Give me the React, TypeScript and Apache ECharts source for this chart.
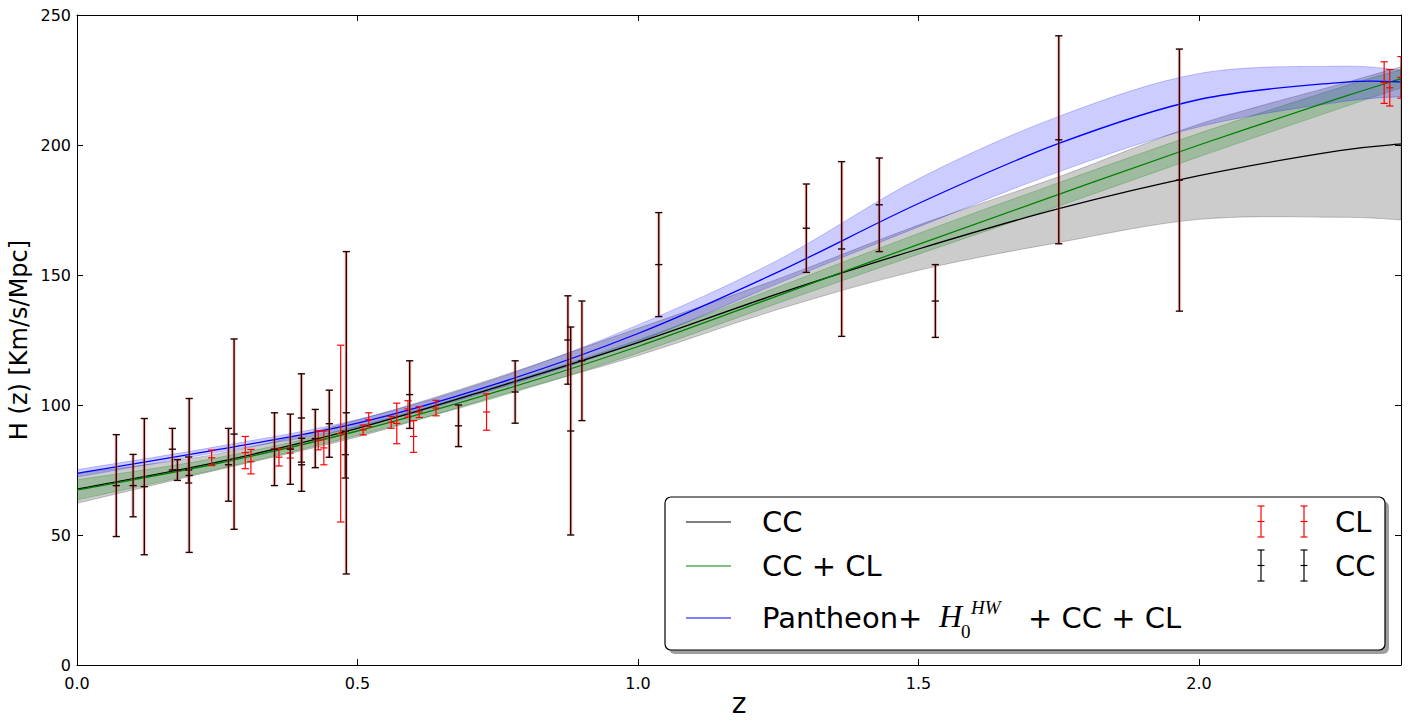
import React, { useEffect, useRef } from "react";
import * as echarts from "echarts";

// Sample redshifts at which the reconstructed curves were read
const Z_GRID = [0, 0.25, 0.5, 0.75, 1.0, 1.25, 1.5, 1.75, 2.0, 2.25, 2.36];

// CC reconstruction (black) and its band
const CC_FIT = [67.6, 78, 91, 107, 124, 142.8, 160, 175.5, 188.2, 197.8, 200.4];
const CC_LO = [62.2, 75, 87.7, 103.5, 119, 136.8, 151.8, 162.5, 171.4, 172.2, 171.2];
const CC_HI = [73.7, 81.2, 94.2, 110.7, 129.5, 148.5, 169.2, 187.8, 208, 223.3, 230.1];

// CC + CL reconstruction (green) and its band
const CCCL_FIT = [67.3, 77.5, 90, 105.2, 122.5, 142.1, 161.8, 181, 200, 218, 225.5];
const CCCL_LO = [63.5, 75.3, 88.3, 103, 120, 139.2, 158, 176.5, 195.5, 214, 222];
const CCCL_HI = [71.2, 79.7, 91.8, 107.4, 125, 145.4, 166, 185.5, 204.5, 222, 229];

// Pantheon+ H0HW + CC + CL reconstruction (blue) and its band
const PAN_FIT = [73.7, 82.8, 93, 108.3, 127.5, 151.2, 177.5, 200.6, 217.5, 224, 224.3];
const PAN_LO = [72.3, 81.8, 91.5, 106.3, 124.3, 146.8, 168.5, 189.7, 207, 216.5, 218.6];
const PAN_HI = [75.1, 84.0, 94.4, 110.3, 130.8, 155.8, 187, 211, 227.5, 230.3, 228.8];

// Cosmic chronometer data (black error bars)
const CC_Z = [0.07, 0.1, 0.12, 0.17, 0.179, 0.199, 0.2, 0.27, 0.28, 0.352, 0.3802, 0.4, 0.4004, 0.4247, 0.4497, 0.4783, 0.48, 0.593, 0.68, 0.781, 0.875, 0.88, 0.9, 1.037, 1.3, 1.363, 1.43, 1.53, 1.75, 1.965];
const CC_H = [69, 69, 68.6, 83, 75, 75, 72.9, 77, 88.8, 83, 83, 95, 77, 87.1, 92.8, 80.9, 97, 104, 92, 105, 125, 90, 117, 154, 168, 160, 177, 140, 202, 186.5];
const CC_E = [19.6, 12, 26.2, 8, 4, 5, 29.6, 14, 36.6, 14, 13.5, 17, 10.2, 11.2, 12.9, 9, 62, 13, 8, 12, 17, 40, 23, 20, 17, 33.6, 18, 14, 40, 50.4];

// Clustering data (red error bars)
const CL_Z = [0.24, 0.3, 0.31, 0.36, 0.38, 0.43, 0.44, 0.47, 0.51, 0.52, 0.56, 0.57, 0.59, 0.6, 0.61, 0.64, 0.73, 2.33, 2.34, 2.36];
const CL_H = [79.69, 81.7, 78.2, 79.93, 81.5, 86.45, 83.5, 89, 90.4, 94.35, 93.34, 92.9, 98.48, 87.9, 97.3, 98.82, 97.3, 224, 222, 226];
const CL_E = [2.99, 6.2, 4.7, 3.39, 1.9, 3.68, 6.5, 34, 1.9, 2.64, 2.3, 7.8, 3.18, 6.1, 2.1, 2.98, 7.0, 8, 7, 8];

const X_MIN = 0;
const X_MAX = 2.36;
const X_STEP = 0.5;
const Y_MIN = 0;
const Y_MAX = 250;
const Y_STEP = 50;

const FONT = "DejaVu Sans";

function pairs(xs: number[], ys: number[]) {
  return xs.map((x, i) => [x, ys[i]]);
}

// Catmull-Rom style smooth path through pixel points (rendering only)
function smoothSegment(pts: number[][], startWithMove: boolean) {
  let d = "";
  const n = pts.length;
  if (startWithMove) d += `M${pts[0][0]},${pts[0][1]}`;
  else d += `L${pts[0][0]},${pts[0][1]}`;
  for (let i = 0; i < n - 1; i++) {
    const p0 = pts[Math.max(0, i - 1)];
    const p1 = pts[i];
    const p2 = pts[i + 1];
    const p3 = pts[Math.min(n - 1, i + 2)];
    const c1x = p1[0] + (p2[0] - p0[0]) / 6;
    const c1y = p1[1] + (p2[1] - p0[1]) / 6;
    const c2x = p2[0] - (p3[0] - p1[0]) / 6;
    const c2y = p2[1] - (p3[1] - p1[1]) / 6;
    d += ` C${c1x},${c1y} ${c2x},${c2y} ${p2[0]},${p2[1]}`;
  }
  return d;
}

function band(lo: number[], hi: number[], fill: string, edge: string) {
  return {
    type: "custom",
    clip: true,
    silent: true,
    z: 1,
    encode: { x: 0, y: [1, 2] },
    data: Z_GRID.map((z, i) => [z, lo[i], hi[i]]),
    renderItem: (params: any, api: any) => {
      if (params.dataIndex !== 0) return null;
      const up = Z_GRID.map((z, i) => api.coord([z, hi[i]]));
      const dn = Z_GRID.map((z, i) => api.coord([z, lo[i]])).reverse();
      const d = smoothSegment(up, true) + " " + smoothSegment(dn, false) + " Z";
      return {
        type: "path",
        shape: { pathData: d },
        style: { fill, stroke: edge, lineWidth: 1 },
      };
    },
  };
}

function fitLine(ys: number[], color: string) {
  return {
    type: "custom",
    clip: true,
    silent: true,
    z: 3,
    encode: { x: 0, y: 1 },
    data: pairs(Z_GRID, ys),
    renderItem: (params: any, api: any) => {
      if (params.dataIndex !== 0) return null;
      const pts = Z_GRID.map((z, i) => api.coord([z, ys[i]]));
      return {
        type: "path",
        shape: { pathData: smoothSegment(pts, true) },
        style: { fill: "none", stroke: color, lineWidth: 1.3 },
      };
    },
  };
}

const CAP = 3.6;

function errorSeries(zs: number[], hs: number[], es: number[], dark: boolean) {
  return {
    type: "custom",
    clip: true,
    silent: true,
    z: 5,
    encode: { x: 0, y: 1 },
    data: zs.map((z, i) => [z, hs[i], es[i]]),
    renderItem: (params: any, api: any) => {
      const x = api.value(0);
      const y = api.value(1);
      const e = api.value(2);
      const t = api.coord([x, y + e]);
      const b = api.coord([x, y - e]);
      const m = api.coord([x, y]);
      const stroke = dark ? "#2a0000" : "#ff0000";
      const st = { stroke, lineWidth: dark ? 1.4 : 1.2 };
      const children: any[] = [];
      if (dark) {
        children.push({
          type: "line",
          shape: { x1: t[0], y1: t[1], x2: b[0], y2: b[1] },
          style: { stroke: "rgba(255,90,90,0.35)", lineWidth: 3.4 },
        });
      }
      children.push(
        { type: "line", shape: { x1: t[0], y1: t[1], x2: b[0], y2: b[1] }, style: st },
        { type: "line", shape: { x1: t[0] - CAP, y1: t[1], x2: t[0] + CAP, y2: t[1] }, style: st },
        { type: "line", shape: { x1: b[0] - CAP, y1: b[1], x2: b[0] + CAP, y2: b[1] }, style: st },
        { type: "line", shape: { x1: m[0] - CAP, y1: m[1], x2: m[0] + CAP, y2: m[1] }, style: st }
      );
      return { type: "group", children };
    },
  };
}

function legendErrIcon(x: number, yTop: number, yBot: number, color: string) {
  const ym = (yTop + yBot) / 2;
  const st = { stroke: color, lineWidth: 1.2 };
  return [
    { type: "line", z: 102, shape: { x1: x, y1: yTop, x2: x, y2: yBot }, style: st },
    { type: "line", z: 102, shape: { x1: x - 3.5, y1: yTop, x2: x + 3.5, y2: yTop }, style: st },
    { type: "line", z: 102, shape: { x1: x - 3.5, y1: yBot, x2: x + 3.5, y2: yBot }, style: st },
    { type: "line", z: 102, shape: { x1: x - 3.5, y1: ym, x2: x + 3.5, y2: ym }, style: st },
  ];
}

function legendText(text: string, x: number, y: number) {
  return {
    type: "text",
    z: 102,
    x,
    y,
    style: {
      text,
      fill: "#000",
      font: `29px '${FONT}'`,
      textAlign: "left",
      textVerticalAlign: "middle",
    },
  };
}

function buildOption() {
  const axisCommonX = {
    type: "value",
    min: X_MIN,
    max: X_MAX,
    interval: X_STEP,
    splitLine: { show: false },
    axisLine: { show: true, onZero: false, lineStyle: { color: "#000", width: 1 } },
    axisTick: { show: true, inside: true, length: 6, lineStyle: { color: "#000" } },
  };
  const axisCommonY = {
    type: "value",
    min: Y_MIN,
    max: Y_MAX,
    interval: Y_STEP,
    splitLine: { show: false },
    axisLine: { show: true, onZero: false, lineStyle: { color: "#000", width: 1 } },
    axisTick: { show: true, inside: true, length: 6, lineStyle: { color: "#000" } },
  };

  const graphic: any[] = [
    {
      type: "text",
      x: 19,
      y: 340,
      rotation: Math.PI / 2,
      style: {
        text: "H (z) [Km/s/Mpc]",
        fill: "#000",
        font: `24px '${FONT}'`,
        textAlign: "center",
        textVerticalAlign: "middle",
      },
    },
    {
      type: "text",
      x: 739,
      y: 703,
      style: {
        text: "z",
        fill: "#000",
        font: `28px '${FONT}'`,
        textAlign: "center",
        textVerticalAlign: "middle",
      },
    },
    {
      type: "rect",
      z: 100,
      shape: { x: 669, y: 501, width: 720, height: 153, r: 6 },
      style: { fill: "rgba(0,0,0,0.38)" },
    },
    {
      type: "rect",
      z: 101,
      shape: { x: 665, y: 497, width: 720, height: 153, r: 6 },
      style: { fill: "#fff", stroke: "#000", lineWidth: 1.2 },
    },
    { type: "line", z: 102, shape: { x1: 686, y1: 522, x2: 731, y2: 522 }, style: { stroke: "#000", lineWidth: 1.2 } },
    { type: "line", z: 102, shape: { x1: 686, y1: 566, x2: 731, y2: 566 }, style: { stroke: "#008000", lineWidth: 1.2 } },
    { type: "line", z: 102, shape: { x1: 686, y1: 618, x2: 731, y2: 618 }, style: { stroke: "#0000ff", lineWidth: 1.2 } },
    legendText("CC", 762, 522),
    legendText("CC + CL", 762, 566),
    legendText("Pantheon+", 762, 618),
    {
      type: "text",
      z: 102,
      x: 939,
      y: 616,
      style: {
        text: "H",
        fill: "#000",
        font: `italic 32px 'Liberation Serif'`,
        textAlign: "left",
        textVerticalAlign: "middle",
      },
    },
    {
      type: "text",
      z: 102,
      x: 971,
      y: 607,
      style: {
        text: "HW",
        fill: "#000",
        font: `italic 19px 'Liberation Serif'`,
        textAlign: "left",
        textVerticalAlign: "middle",
      },
    },
    {
      type: "text",
      z: 102,
      x: 961,
      y: 631,
      style: {
        text: "0",
        fill: "#000",
        font: `19px 'Liberation Serif'`,
        textAlign: "left",
        textVerticalAlign: "middle",
      },
    },
    legendText("+ CC + CL", 1028, 618),
    ...legendErrIcon(1261, 506, 537, "#ff0000"),
    ...legendErrIcon(1304, 506, 537, "#ff0000"),
    legendText("CL", 1335, 522),
    ...legendErrIcon(1261, 550, 581, "#000"),
    ...legendErrIcon(1304, 550, 581, "#000"),
    legendText("CC", 1335, 566),
  ];

  return {
    animation: false,
    backgroundColor: "#fff",
    grid: { left: 77, right: 10, top: 15, bottom: 56, containLabel: false },
    xAxis: [
      {
        ...axisCommonX,
        position: "bottom",
        axisLabel: {
          show: true,
          color: "#000",
          fontSize: 16,
          fontFamily: FONT,
          margin: 10,
          showMaxLabel: false,
          formatter: (v: number) => v.toFixed(1),
        },
      },
      { ...axisCommonX, position: "top", axisLabel: { show: false } },
    ],
    yAxis: [
      {
        ...axisCommonY,
        position: "left",
        axisLabel: {
          show: true,
          color: "#000",
          fontSize: 16,
          fontFamily: FONT,
          margin: 6,
          formatter: (v: number) => String(Math.round(v)),
        },
      },
      { ...axisCommonY, position: "right", axisLabel: { show: false } },
    ],
    series: [
      band(CC_LO, CC_HI, "rgba(0,0,0,0.2)", "rgba(0,0,0,0.22)"),
      band(CCCL_LO, CCCL_HI, "rgba(0,128,0,0.22)", "rgba(0,128,0,0.25)"),
      band(PAN_LO, PAN_HI, "rgba(0,0,255,0.2)", "rgba(0,0,255,0.22)"),
      fitLine(CC_FIT, "#000000"),
      fitLine(CCCL_FIT, "#008000"),
      fitLine(PAN_FIT, "#0000ff"),
      errorSeries(CL_Z, CL_H, CL_E, false),
      errorSeries(CC_Z, CC_H, CC_E, true),
    ],
    graphic,
  };
}

export default function App() {
  const ref = useRef<HTMLDivElement>(null);
  useEffect(() => {
    if (!ref.current) return;
    const chart = echarts.init(ref.current, null, { renderer: "svg" });
    chart.setOption(buildOption() as any);
    return () => chart.dispose();
  }, []);
  return (
    <div
      ref={ref}
      style={{ position: "fixed", left: 0, top: 0, width: 1411, height: 721, background: "#fff" }}
    />
  );
}
